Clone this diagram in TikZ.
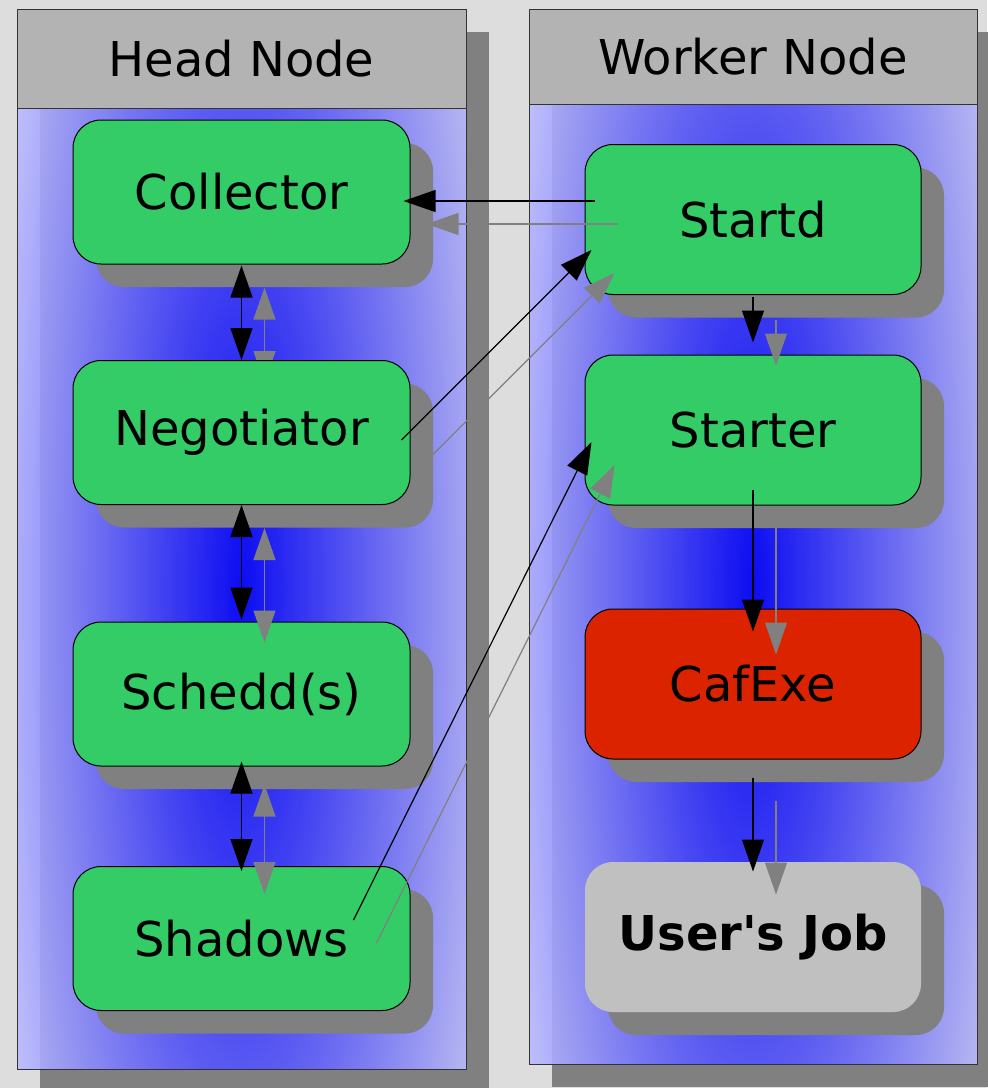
\documentclass[tikz,border=0pt]{standalone}
\usepackage{fontspec}
\setmainfont{DejaVu Sans}
\usetikzlibrary{arrows.meta,calc,shadows}

\definecolor{canvas}{HTML}{DDDDDD}
\definecolor{shadowgray}{HTML}{808080}
\definecolor{headfill}{HTML}{B3B3B3}
\definecolor{daemon}{HTML}{33CC66}
\definecolor{cafred}{HTML}{DC2300}
\definecolor{jobgray}{HTML}{C0C0C0}
\definecolor{frame}{HTML}{333333}

% blue glow in the middle of each machine panel, fading to white
\pgfdeclareradialshading{panelglow}{\pgfpoint{0bp}{0bp}}{%
  color(0bp)=(blue); color(38bp)=(white); color(50bp)=(white)}

\pgfdeclarelayer{background}
\pgfdeclarelayer{under}
\pgfsetlayers{background,under,main}

\tikzset{
  boxfont/.style={font=\fontsize{24pt}{29pt}\selectfont},
  header/.style={boxfont, draw=frame, line width=0.5pt, fill=headfill, inner sep=0pt},
  box/.style={boxfont, rounded corners=14pt, draw=black, line width=0.5pt, inner sep=0pt,
    drop shadow={shadow xshift=11.5pt, shadow yshift=-11.5pt, fill=shadowgray, opacity=1}},
  leftbox/.style={box, fill=daemon, minimum width=168.5pt, minimum height=72pt},
  rightbox/.style={box, fill=daemon, minimum width=168pt, minimum height=75pt},
  blackline/.style={draw=black, line width=0.6pt},
  grayline/.style={draw=shadowgray, line width=0.6pt},
  onetip/.style={-{Triangle[length=16pt,width=11pt]}},
  twotips/.style={{Triangle[length=16pt,width=11pt]}-{Triangle[length=16pt,width=11pt]}},
}

% every connector except Collector <-> Negotiator; #1 line style, #2 offset
\newcommand\daemonlinks[2]{%
  \draw[#1, onetip] ($(startd.west)+(10,-18.5)+#2$) -- ($(collector.east)+(-7,9)+#2$);
  \draw[#1, onetip] ($(negotiator.east)+(-9,7.5)+#2$) -- ($(startd.west)+(7,30.5)+#2$);
  \draw[#1, onetip] ($(shadows.east)+(-57,-18.5)+#2$) -- ($(starter.west)+(7,12)+#2$);
  \draw[#1, twotips] ($(negotiator.south)+#2$) -- ($(schedd.north)+(0,-2)+#2$);
  \draw[#1, twotips] ($(schedd.south)+(0,-5)+#2$) -- ($(shadows.north)+(0,5)+#2$);
  \draw[#1, onetip] ($(startd.south)+(0,2)+#2$) -- ($(starter.north)+(0,-12)+#2$);
  \draw[#1, onetip] ($(starter.south)+(0,-16)+#2$) -- ($(cafexe.north)+(0,23)+#2$);
  \draw[#1, onetip] ($(cafexe.south)+(0,18)+#2$) -- ($(userjob.north)+(0,10)+#2$);
}

\begin{document}
\begin{tikzpicture}[x=0.5pt, y=-0.5pt]
\useasboundingbox (0,0) rectangle (987,1088);

\begin{pgfonlayer}{background}
  \fill[canvas] (0,0) rectangle (987,1088);

  % head node panel
  \fill[shadowgray] (40,32) rectangle (489,1092);
  \begin{scope}
    \clip (17,108) rectangle (466,1069);
    \shade[shading=panelglow, opacity=0.9] (17,-372) rectangle (466,1549);
  \end{scope}
  \draw[frame, line width=0.5pt] (17,108) rectangle (466,1069);
  \node[header, minimum width=224.5pt, minimum height=49.5pt] (headtitle) at (241.5,58.5) {Head Node};

  % worker node panel
  \fill[shadowgray] (552,32) rectangle (1000,1087);
  \begin{scope}
    \clip (529,104) rectangle (977,1064);
    \shade[shading=panelglow, opacity=0.9] (529,-376) rectangle (977,1544);
  \end{scope}
  \draw[frame, line width=0.5pt] (529,104) rectangle (977,1064);
  \node[header, minimum width=224pt, minimum height=47.5pt] (workertitle) at (753,56.5) {Worker Node};
\end{pgfonlayer}

% head node daemons
\node[leftbox] (collector)  at (241.5,192)   {Collector};
\node[leftbox] (negotiator) at (241.5,432.5) {Negotiator};
\node[leftbox] (schedd)     at (241.5,694)   {Schedd(s)};
\node[leftbox] (shadows)    at (241.5,938.5) {Shadows};

% worker node processes
\node[rightbox] (startd)  at (753,219.5) {Startd};
\node[rightbox] (starter) at (753,430)   {Starter};
\node[rightbox, fill=cafred] (cafexe) at (753,684) {CafExe};
\node[rightbox, fill=jobgray, draw=none, font=\fontsize{24pt}{29pt}\selectfont\bfseries] (userjob) at (753,937) {User\textquotesingle s Job};

% Collector <-> Negotiator: the shadow copy sits below the boxes
\begin{pgfonlayer}{under}
  \draw[grayline, twotips] ($(collector.south)+(23,23)$) -- ($(negotiator.north)+(23,23)$);
\end{pgfonlayer}
\draw[blackline, twotips] ($(collector.south)+(0,1)$) -- (negotiator.north);

% shadow copies first, then the black connectors
\daemonlinks{grayline}{(23,23)}
\daemonlinks{blackline}{(0,0)}

\end{tikzpicture}
\end{document}
